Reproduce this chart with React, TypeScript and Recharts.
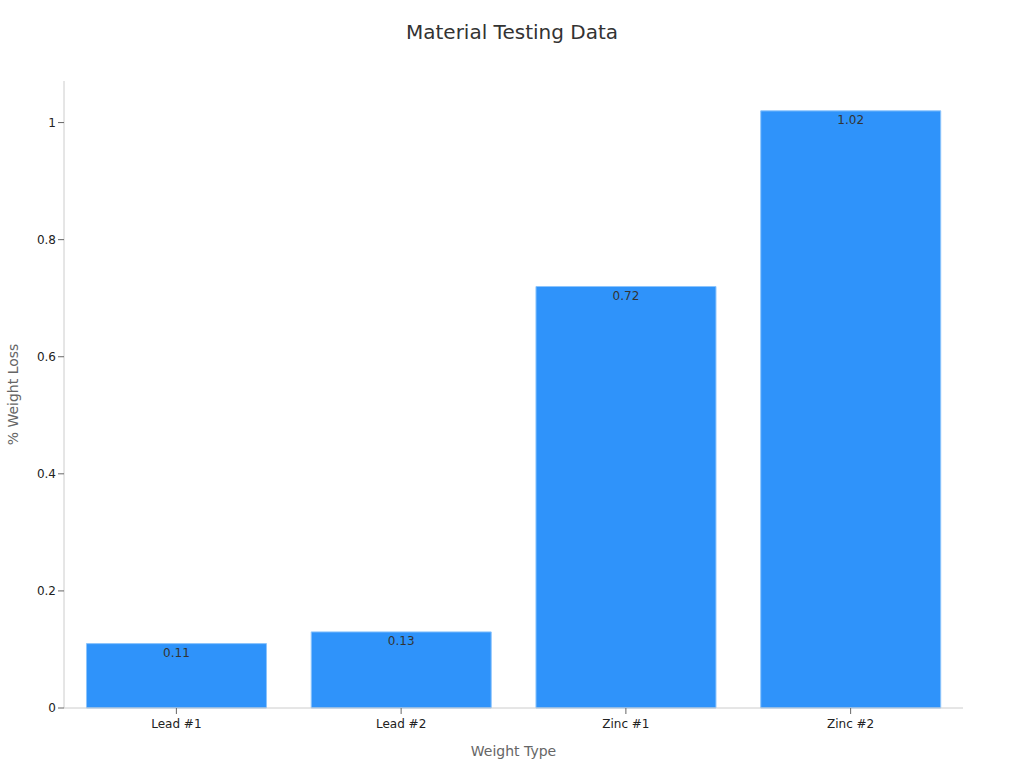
import { BarChart, Bar, XAxis, YAxis, LabelList } from 'recharts'

const categories = ['Lead #1', 'Lead #2', 'Zinc #1', 'Zinc #2']
const weightLoss = [0.11, 0.13, 0.72, 1.02]
const yTicks = [0, 0.2, 0.4, 0.6, 0.8, 1]

const data = categories.map((name, i) => ({ name, value: weightLoss[i] }))

export default function App() {
  return (
    <div style={{ position: 'absolute', left: 0, top: 0, width: 1024, height: 768, background: '#fff', fontFamily: '"DejaVu Sans", sans-serif' }}>
      <div style={{ position: 'absolute', top: 20, left: 0, width: 1024, textAlign: 'center', fontSize: 20, color: '#333' }}>
        Material Testing Data
      </div>
      <BarChart width={1024} height={768} data={data} margin={{ top: 81, right: 61, bottom: 0, left: 0 }} barCategoryGap="10%">
        <XAxis
          dataKey="name"
          height={60}
          tickMargin={5}
          tick={{ fontSize: 12, fill: '#222' }}
          tickLine={{ stroke: '#666' }}
          axisLine={{ stroke: '#ccc' }}
          label={{ value: 'Weight Type', position: 'insideBottom', offset: 12, fill: '#666', fontSize: 14 }}
        />
        <YAxis
          width={64}
          domain={[0, (max: number) => max * 1.05]}
          ticks={yTicks}
          tick={{ fontSize: 12, fill: '#222' }}
          tickLine={{ stroke: '#666' }}
          axisLine={{ stroke: '#ccc' }}
          label={{ value: '% Weight Loss', angle: -90, position: 'insideLeft', offset: 13, fill: '#666', fontSize: 14, style: { textAnchor: 'middle' } }}
        />
        <Bar dataKey="value" fill="#2f93fa" stroke="#8cc4fc" strokeWidth={1} isAnimationActive={false}>
          <LabelList dataKey="value" position="insideTop" fill="#333" fontSize={12} />
        </Bar>
      </BarChart>
    </div>
  )
}
